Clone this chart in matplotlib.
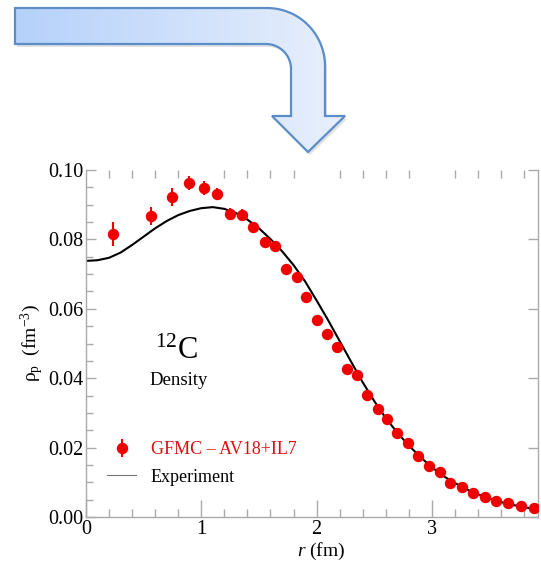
import numpy as np
import matplotlib
matplotlib.use("Agg")
import matplotlib.pyplot as plt
from matplotlib.path import Path
from matplotlib.patches import PathPatch
from matplotlib.lines import Line2D

plt.rcParams['font.family'] = ['Liberation Serif', 'DejaVu Serif']
plt.rcParams['mathtext.fontset'] = 'custom'
plt.rcParams['mathtext.rm'] = 'Liberation Serif'
plt.rcParams['mathtext.it'] = 'Liberation Serif:italic'
plt.rcParams['mathtext.default'] = 'regular'

# ---------------- data ----------------
r_gfmc = [0.23, 0.56, 0.75, 0.89, 1.02, 1.14, 1.25, 1.35, 1.45, 1.55, 1.64, 1.735,
          1.83, 1.91, 2.00, 2.09, 2.18, 2.26, 2.35, 2.44, 2.53, 2.61, 2.70, 2.79,
          2.88, 2.975, 3.07, 3.16, 3.26, 3.36, 3.46, 3.56, 3.66, 3.77, 3.885]
rho_gfmc = [0.0816, 0.0867, 0.0922, 0.0963, 0.0947, 0.0931, 0.0874, 0.0870, 0.0836,
            0.0793, 0.0781, 0.0716, 0.0693, 0.0634, 0.0567, 0.0526, 0.0491, 0.0426,
            0.0408, 0.0352, 0.0311, 0.0282, 0.0242, 0.0213, 0.0177, 0.0147, 0.0131,
            0.0099, 0.0086, 0.0070, 0.0057, 0.0047, 0.0040, 0.0033, 0.0025]
err_gfmc = [0.0035, 0.0026, 0.0025, 0.0020, 0.0020, 0.0018, 0.0017, 0.0017, 0.0012,
            0.0011, 0.0011, 0.0010, 0.0010, 0.0009, 0.0009, 0.0008, 0.0008, 0.0008,
            0.0008, 0.0007, 0.0007, 0.0007, 0.0006, 0.0006, 0.0006, 0.0005, 0.0005,
            0.0005, 0.0005, 0.0004, 0.0004, 0.0004, 0.0004, 0.0004, 0.0004]

r_exp = [0.0, 0.1, 0.2, 0.3, 0.4, 0.5, 0.6, 0.7, 0.8, 0.9, 1.0, 1.1, 1.2, 1.3, 1.4,
         1.5, 1.6, 1.7, 1.8, 1.9, 2.0, 2.1, 2.2, 2.3, 2.4, 2.5, 2.6, 2.7, 2.8, 2.9,
         3.0, 3.1, 3.2, 3.3, 3.4, 3.5, 3.6, 3.7, 3.8, 3.92]
rho_exp = [0.0738, 0.0740, 0.0747, 0.0762, 0.0784, 0.0808, 0.0832, 0.0853, 0.0870,
           0.0882, 0.0890, 0.0893, 0.0888, 0.0876, 0.0857, 0.0832, 0.0801, 0.0766,
           0.0726, 0.0679, 0.0624, 0.0567, 0.0507, 0.0447, 0.0388, 0.0334, 0.0285,
           0.0243, 0.0206, 0.0173, 0.0143, 0.0118, 0.0098, 0.0080, 0.0065, 0.0053,
           0.0043, 0.0035, 0.0028, 0.0022]

x_ticks = [0, 1, 2, 3]
y_ticks = [0.00, 0.02, 0.04, 0.06, 0.08, 0.10]

W, H = 541, 562
fig = plt.figure(figsize=(W / 100, H / 100), dpi=100)

# ---------------- decorative arrow (pixel coordinates) ----------------
ov = fig.add_axes([0, 0, 1, 1])
ov.set_xlim(0, W)
ov.set_ylim(H, 0)
ov.axis('off')

def arc(cx, cy, r, a0, a1, n=30):
    t = np.linspace(np.radians(a0), np.radians(a1), n)
    return [(cx + r * np.cos(t_), cy - r * np.sin(t_)) for t_ in t]

pts = [(15, 8), (267, 8)]
pts += arc(267, 66, 58, 90, 0)
pts += [(325, 116), (345, 116), (308, 152), (272, 116), (291, 116), (291, 69)]
pts += arc(266, 69, 25, 0, 90)
pts += [(15, 44), (15, 8)]
codes = [Path.MOVETO] + [Path.LINETO] * (len(pts) - 2) + [Path.CLOSEPOLY]

shadow = Path([(x + 2, y + 3) for x, y in pts], codes)
ov.add_patch(PathPatch(shadow, facecolor='#888888', edgecolor='none', alpha=0.25))

path = Path(pts, codes)
grad = np.linspace(0, 1, 256).reshape(1, -1)
c0 = np.array([0.71, 0.82, 0.98])
c1 = np.array([0.91, 0.94, 0.99])
img = c0[None, None, :] * (1 - grad[..., None]) + c1[None, None, :] * grad[..., None]
im = ov.imshow(img, extent=(15, 345, 152, 8), aspect='auto', zorder=2)
patch = PathPatch(path, facecolor='none', edgecolor='#5B8DC9', linewidth=1.6, zorder=3)
ov.add_patch(patch)
im.set_clip_path(patch)
ov.set_xlim(0, W)
ov.set_ylim(H, 0)

# ---------------- main axes ----------------
L, R, T, B = 86, 538, 170, 517
ax = fig.add_axes([L / W, 1 - B / H, (R - L) / W, (B - T) / H])

ax.plot(r_exp, rho_exp, color='black', lw=1.5, zorder=2)
ax.errorbar(r_gfmc, rho_gfmc, yerr=err_gfmc, fmt='o', color='#ee0000', ms=7.2,
            elinewidth=1.5, capsize=0, zorder=3)

ax.set_xlim(0, 3.92)
ax.set_ylim(0, 0.10)
ax.set_xticks(x_ticks)
ax.set_xticklabels([str(t) for t in x_ticks])
ax.set_yticks(y_ticks)
ax.set_yticklabels(['%.2f' % t for t in y_ticks])
ax.set_xticks(np.arange(0, 3.92, 0.2), minor=True)
ax.set_yticks(np.arange(0, 0.1001, 0.005), minor=True)

gray = '#aaaaaa'
for s in ['left', 'bottom', 'right']:
    ax.spines[s].set_color(gray)
    ax.spines[s].set_linewidth(1.0)
ax.spines['top'].set_visible(False)

ax.tick_params(axis='both', which='both', direction='in', color=gray, labelsize=14.5)
ax.tick_params(axis='x', which='major', length=12, width=1, top=False, pad=2)
ax.tick_params(axis='x', which='minor', length=6, width=1, top=True)
ax.tick_params(axis='y', which='major', length=7, width=1, right=True, pad=2)
ax.tick_params(axis='y', which='minor', length=5, width=1, right=False)

ax.set_xlabel(r'$\mathit{r}$ (fm)', fontsize=14, labelpad=1)
ax.xaxis.set_label_coords(0.52, -0.068)
ax.set_ylabel(r'ρ$_{\mathregular{p}}$  (fm$^{\mathregular{-3}}$)', fontsize=14)
ax.yaxis.set_label_coords(-0.088, 0.5)

ax.text(0.20, 0.455, r'$^{\mathregular{12}}$C', transform=ax.transAxes,
        fontsize=22, ha='center', va='baseline')
ax.text(0.205, 0.38, 'Density', transform=ax.transAxes,
        fontsize=13.5, ha='center', va='baseline')

h1 = ax.errorbar([], [], yerr=[], fmt='o', color='#ee0000', ms=7.2, elinewidth=1.5, capsize=0)
h2 = Line2D([], [], color='#777777', lw=0.8)
leg = ax.legend([h1, h2], ['GFMC – AV18+IL7', 'Experiment'], loc='upper left',
                bbox_to_anchor=(0.011, 0.266), frameon=False, fontsize=13,
                handlelength=1.6, handletextpad=0.8, labelspacing=0.6)
leg.get_texts()[0].set_color('#dd1111')
leg.get_texts()[1].set_color('black')

fig.savefig('out.png', dpi=100)
